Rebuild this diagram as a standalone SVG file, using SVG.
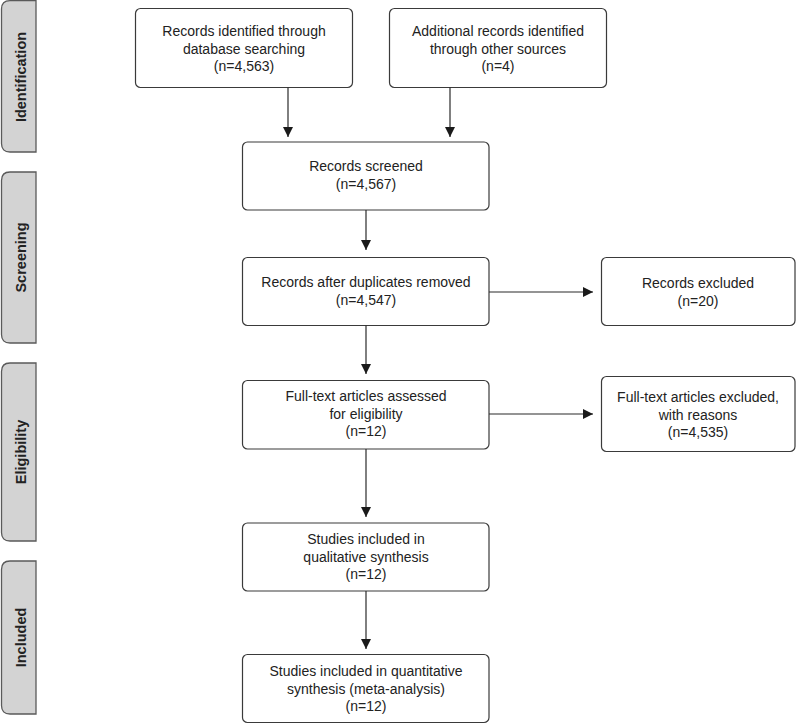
<svg xmlns="http://www.w3.org/2000/svg" width="796" height="725" viewBox="0 0 796 725">
<defs>
<style>
.box{fill:#fff;stroke:#3a3a3a;stroke-width:1.2}
.lab{fill:#d3d3d3;stroke:#5a5a5a;stroke-width:1.3}
.t{font-family:"Liberation Sans",Arial,sans-serif;font-size:14px;fill:#222;text-anchor:middle}
.lt{font-family:"Liberation Sans",Arial,sans-serif;font-size:14.5px;font-weight:bold;fill:#222;text-anchor:middle}
.c{stroke:#2a2a2a;stroke-width:1.2;fill:none;marker-end:url(#ah)}
</style>
<marker id="ah" markerUnits="userSpaceOnUse" markerWidth="12" markerHeight="12" viewBox="0 0 12 12" refX="11" refY="6" orient="auto">
<path d="M1,1 L11,6 L1,11 Z" fill="#1a1a1a"/>
</marker>
</defs>
<rect width="796" height="725" fill="#fff"/>

<g id="label-identification">
<path class="lab" d="M36,0.7 V152 H10 Q1.5,152 1.5,143.5 V9 Q1.5,0.7 10,0.7 Z"/>
<text class="lt" transform="translate(26,77) rotate(-90)">Identification</text>
</g>
<g id="label-screening">
<path class="lab" d="M36,172 V343 H10 Q1.5,343 1.5,334.5 V180.5 Q1.5,172 10,172 Z"/>
<text class="lt" transform="translate(26,257.5) rotate(-90)">Screening</text>
</g>
<g id="label-eligibility">
<path class="lab" d="M36,363 V541 H10 Q1.5,541 1.5,532.5 V371.5 Q1.5,363 10,363 Z"/>
<text class="lt" transform="translate(26,452) rotate(-90)">Eligibility</text>
</g>
<g id="label-included">
<path class="lab" d="M36,561 V714 H10 Q1.5,714 1.5,705.5 V569.5 Q1.5,561 10,561 Z"/>
<text class="lt" transform="translate(26,637.5) rotate(-90)">Included</text>
</g>

<g id="n-database">
<rect class="box" x="135.5" y="8.5" width="217" height="79" rx="5"/>
<text class="t" x="244" y="36">Records identified through</text>
<text class="t" x="244" y="53.5">database searching</text>
<text class="t" x="244" y="71">(n=4,563)</text>
</g>
<g id="n-other">
<rect class="box" x="389.5" y="8.5" width="217" height="79" rx="5"/>
<text class="t" x="498" y="36">Additional records identified</text>
<text class="t" x="498" y="53.5">through other sources</text>
<text class="t" x="498" y="71">(n=4)</text>
</g>
<g id="n-screened">
<rect class="box" x="242.5" y="142" width="246.5" height="68" rx="5"/>
<text class="t" x="366" y="171">Records screened</text>
<text class="t" x="366" y="188.5">(n=4,567)</text>
</g>
<g id="n-dedup">
<rect class="box" x="242.5" y="257.5" width="246.5" height="68" rx="5"/>
<text class="t" x="366" y="287">Records after duplicates removed</text>
<text class="t" x="366" y="304.5">(n=4,547)</text>
</g>
<g id="n-excluded">
<rect class="box" x="601.5" y="257.5" width="193.5" height="68" rx="5"/>
<text class="t" x="698" y="288">Records excluded</text>
<text class="t" x="698" y="306">(n=20)</text>
</g>
<g id="n-fulltext">
<rect class="box" x="242.5" y="380.5" width="246.5" height="68.5" rx="5"/>
<text class="t" x="366" y="401">Full-text articles assessed</text>
<text class="t" x="366" y="418.5">for eligibility</text>
<text class="t" x="366" y="436">(n=12)</text>
</g>
<g id="n-ftexcluded">
<rect class="box" x="601.5" y="376.5" width="193.5" height="75" rx="5"/>
<text class="t" x="698" y="402">Full-text articles excluded,</text>
<text class="t" x="698" y="419.5">with reasons</text>
<text class="t" x="698" y="437">(n=4,535)</text>
</g>
<g id="n-qualitative">
<rect class="box" x="242.5" y="523" width="246.5" height="68" rx="5"/>
<text class="t" x="366" y="544">Studies included in</text>
<text class="t" x="366" y="561.5">qualitative synthesis</text>
<text class="t" x="366" y="579">(n=12)</text>
</g>
<g id="n-quantitative">
<rect class="box" x="242.5" y="654.5" width="246.5" height="68" rx="5"/>
<text class="t" x="366" y="676">Studies included in quantitative</text>
<text class="t" x="366" y="693.5">synthesis (meta-analysis)</text>
<text class="t" x="366" y="711">(n=12)</text>
</g>

<g id="connectors">
<line class="c" x1="288" y1="87.5" x2="288" y2="137"/>
<line class="c" x1="450" y1="87.5" x2="450" y2="137"/>
<line class="c" x1="366" y1="210" x2="366" y2="250"/>
<line class="c" x1="489" y1="292" x2="593" y2="292"/>
<line class="c" x1="366" y1="325.5" x2="366" y2="374"/>
<line class="c" x1="489" y1="414" x2="593" y2="414"/>
<line class="c" x1="366" y1="449" x2="366" y2="517"/>
<line class="c" x1="366" y1="591" x2="366" y2="649"/>
</g>
</svg>
